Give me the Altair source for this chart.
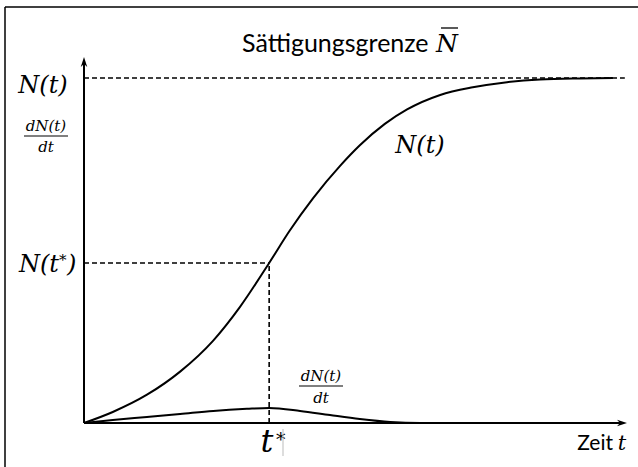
import altair as alt
import pandas as pd

# ---- data ----
t_N = [0, 0.53, 1.16, 1.77, 2.38, 2.87, 3.41, 3.79, 4.22, 4.72, 5.08, 5.54, 5.95, 6.56, 7.16, 7.79, 8.40, 9.13, 9.74]
N_vals = [0, 0.032, 0.082, 0.149, 0.239, 0.336, 0.464, 0.558, 0.652, 0.746, 0.805, 0.867, 0.909, 0.951, 0.973, 0.988, 0.996, 0.999, 1.0]
t_D = [0, 0.53, 1.16, 1.77, 2.38, 3.0, 3.41, 3.98, 4.53, 5.08, 5.64, 6.19, 7.97]
D_vals = [0, 0.0087, 0.0174, 0.026, 0.035, 0.041, 0.0435, 0.035, 0.023, 0.0116, 0.003, 0, 0]
T_STAR = 3.41
N_STAR = 0.464
N_BAR = 1.0
T_END = 10.0
Y_TOP = 1.061
T_DASH_END = 9.96

# ---- layout ----
OX, OY = 84, 57          # plot origin (padding left/top)
W, H = 543, 366
MATH = "DejaVu Serif"
SANS = "Lato"

xs = alt.Scale(domain=[0, T_END], nice=False, zero=False)
ys = alt.Scale(domain=[0, Y_TOP], nice=False, zero=False)

def X(f):
    return alt.X(f, type="quantitative", scale=xs, axis=None)

def Y(f):
    return alt.Y(f, type="quantitative", scale=ys, axis=None)

curve_N = alt.Chart(pd.DataFrame({"t": t_N, "v": N_vals})).mark_line(
    color="black", strokeWidth=2, interpolate="monotone").encode(x=X("t"), y=Y("v"))
curve_D = alt.Chart(pd.DataFrame({"t": t_D, "v": D_vals})).mark_line(
    color="black", strokeWidth=2, interpolate="monotone").encode(x=X("t"), y=Y("v"))

dash_df = pd.DataFrame({
    "t": [0, 0, T_STAR],
    "t2": [T_DASH_END, T_STAR, T_STAR],
    "v": [N_BAR, N_STAR, 0],
    "v2": [N_BAR, N_STAR, N_STAR],
})
dashes = alt.Chart(dash_df).mark_rule(color="black", strokeWidth=1.6, strokeDash=[5, 3]).encode(
    x=X("t"), x2="t2", y=Y("v"), y2="v2")

axes_df = pd.DataFrame({"t": [0, 0], "t2": [T_END - 0.1, 0], "v": [0, 0], "v2": [0, Y_TOP - 0.02]})
axes = alt.Chart(axes_df).mark_rule(color="black", strokeWidth=2).encode(
    x=X("t"), x2="t2", y=Y("v"), y2="v2")

arrow_path = "M0,0 L-2,-0.65 L-1.4,0 L-2,0.65 Z"
arrows = alt.Chart(pd.DataFrame({"t": [T_END, 0], "v": [0, Y_TOP], "ang": [0, 270]})).mark_point(
    shape=arrow_path, filled=True, color="black", size=100, opacity=1).encode(
    x=X("t"), y=Y("v"), angle=alt.Angle("ang:Q", scale=None))

one = pd.DataFrame({"k": [0]})

def label(text, x, y, size, font, style="normal", align="center", color="black"):
    return alt.Chart(pd.DataFrame({"label": [text]})).mark_text(
        font=font, fontSize=size, fontStyle=style, align=align, baseline="alphabetic", color=color
    ).encode(x=alt.value(x - OX), y=alt.value(y - OY), text="label:N")

def hline(x1, x2, y, w=1.2, color="black"):
    return alt.Chart(one).mark_rule(color=color, strokeWidth=w).encode(
        x=alt.value(x1 - OX), x2=alt.value(x2 - OX), y=alt.value(y - OY))

def vline(x, y1, y2, w=1.2, color="black"):
    return alt.Chart(one).mark_rule(color=color, strokeWidth=w).encode(
        x=alt.value(x - OX), y=alt.value(y1 - OY), y2=alt.value(y2 - OY))

texts = [
    label("Sättigungsgrenze", 242, 52, 25, SANS, align="left"),
    label("N", 447, 52, 25, MATH, style="italic"),
    hline(441, 458, 28, 1.3),
    label("N(t)", 43, 93, 24, MATH, style="italic"),
    label("dN(t)", 46, 131, 15, MATH, style="italic"),
    hline(24, 68, 136, 1.2),
    label("dt", 46, 152, 15, MATH, style="italic"),
    label("N(t", 59, 272, 24, MATH, style="italic", align="right"),
    label("*", 59, 265, 15, MATH, style="italic", align="left"),
    label(")", 67, 272, 24, MATH, style="italic", align="left"),
    label("t", 267, 452, 32, MATH, style="italic"),
    label("*", 276, 446, 19, MATH, style="italic", align="left"),
    vline(283, 429, 456, 1, "#bbbbbb"),
    label("Zeit", 613, 450, 21, SANS, align="right"),
    label("t", 622, 450, 21, MATH, style="italic"),
    label("N(t)", 420, 153, 24, MATH, style="italic"),
    label("dN(t)", 321, 381, 15, MATH, style="italic"),
    hline(299, 343, 386, 1.2),
    label("dt", 321, 403, 15, MATH, style="italic"),
    hline(5, 638, 7, 1.5),
    vline(5, 7, 467, 1.5),
]

chart = alt.layer(dashes, curve_N, curve_D, axes, arrows, *texts).properties(
    width=W, height=H,
    padding={"left": OX, "top": OY, "right": 638 - OX - W, "bottom": 467 - OY - H},
    autosize=alt.AutoSizeParams(type="none"),
    background="white",
).configure_view(stroke=None)

chart.save("out.html", embed_options={"renderer": "svg", "actions": False})
